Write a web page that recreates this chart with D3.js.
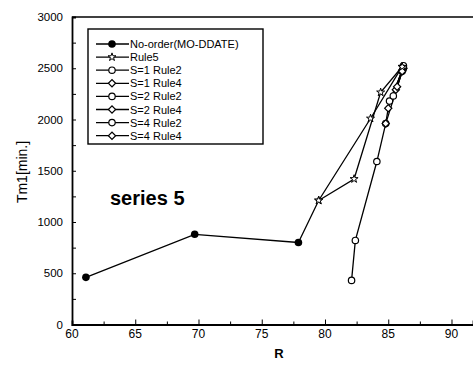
<!DOCTYPE html>
<html>
<head>
<meta charset="utf-8">
<script src="https://cdn.jsdelivr.net/npm/d3@7"></script>
<style>
  body { margin: 0; background: #fff; }
  svg { display: block; }
  text { font-family: "Liberation Sans", Arial, sans-serif; fill: #000; }
</style>
</head>
<body>
<svg id="chart" width="473" height="367"></svg>
<script>
// data
var xTicks = [60, 65, 70, 75, 80, 85, 90];
var yTicks = [0, 500, 1000, 1500, 2000, 2500, 3000];
var legendNames = ['No-order(MO-DDATE)', 'Rule5', 'S=1 Rule2', 'S=1 Rule4', 'S=2 Rule2', 'S=2 Rule4', 'S=4 Rule2', 'S=4 Rule4'];
var legendMarks = ['dot', 'star', 'circle', 'diamond', 'circle', 'diamond', 'circle', 'diamond'];

var noOrder = [[61.1, 460], [69.7, 880], [77.9, 800]];
var rule5 = [[77.9, 800], [79.5, 1210], [83.6, 2010], [86.1, 2515]];
var rule5b = [[79.5, 1210], [82.3, 1420], [84.4, 2265], [86.1, 2515]];
var s1rule2 = [[82.1, 430], [82.4, 820], [84.1, 1590], [84.8, 1960], [86.1, 2470]];
var s1rule4 = [[84.8, 1960], [85.0, 2110], [86.1, 2480]];
var s2rule2 = [[85.1, 2180], [86.2, 2500]];
var s2rule4 = [[85.6, 2290], [86.2, 2500]];
var s4rule2 = [[85.4, 2230], [86.2, 2525]];
var s4rule4 = [[85.7, 2320], [86.1, 2470]];

var svg = d3.select('#chart');
var x = d3.scaleLinear().domain([60, 91.7]).range([72, 473]);
var y = d3.scaleLinear().domain([0, 3000]).range([324.5, 17]);

// frame: top line + axes
svg.append('line').attr('x1', 72).attr('x2', 473).attr('y1', y(3000)).attr('y2', y(3000))
    .attr('stroke', '#000').attr('stroke-width', 1.6);

var xAxis = svg.append('g').attr('transform', 'translate(0,' + y(0) + ')')
    .call(d3.axisTop(x).tickValues(d3.range(60, 91, 2.5)).tickSize(4).tickFormat(''));
xAxis.selectAll('.tick line').attr('y2', function (d) { return d % 5 === 0 ? -5 : -3; });
xAxis.select('.domain').attr('stroke-width', 1.8);
svg.append('g').selectAll('text').data(xTicks).join('text')
    .attr('x', function (d) { return x(d); }).attr('y', 338)
    .attr('text-anchor', 'middle').attr('font-size', 12).text(function (d) { return d; });

var yAxis = svg.append('g').attr('transform', 'translate(' + x(60) + ',0)')
    .call(d3.axisRight(y).tickValues(d3.range(0, 3001, 250)).tickSize(4).tickFormat(''));
yAxis.select('.domain').attr('stroke-width', 1.8);
svg.append('g').selectAll('text').data(yTicks).join('text')
    .attr('x', 63).attr('y', function (d) { return y(d) + 4; })
    .attr('text-anchor', 'end').attr('font-size', 11.5).text(function (d) { return d; });
svg.selectAll('.domain, .tick line').attr('stroke', '#000');

svg.append('text').attr('x', 279).attr('y', 358).attr('text-anchor', 'middle')
    .attr('font-size', 13).attr('font-weight', 'bold').text('R');
svg.append('text').attr('transform', 'translate(27,172) rotate(-90)').attr('text-anchor', 'middle')
    .attr('font-size', 14).text('Tm1[min.]');
svg.append('text').attr('x', 110).attr('y', 205).attr('font-size', 20).attr('font-weight', 'bold')
    .text('series 5');

// markers
function drawMark(g, kind, cx, cy) {
    if (kind === 'dot') {
        g.append('circle').attr('cx', cx).attr('cy', cy).attr('r', 3.8).attr('fill', '#000');
    } else if (kind === 'circle') {
        g.append('circle').attr('cx', cx).attr('cy', cy).attr('r', 3.2)
            .attr('fill', '#fff').attr('stroke', '#000').attr('stroke-width', 1.2);
    } else if (kind === 'diamond') {
        g.append('path').attr('transform', 'translate(' + cx + ',' + cy + ') rotate(45)')
            .attr('d', d3.symbol(d3.symbolSquare, 26)())
            .attr('fill', '#fff').attr('stroke', '#000').attr('stroke-width', 1.2);
    } else {
        g.append('path').attr('transform', 'translate(' + cx + ',' + cy + ')')
            .attr('d', d3.symbol(d3.symbolStar, 20)())
            .attr('fill', '#fff').attr('stroke', '#000').attr('stroke-width', 1);
    }
}

var series = [
    {data: s1rule2, mark: 'circle'}, {data: s1rule4, mark: 'diamond'},
    {data: s2rule2, mark: 'circle'}, {data: s2rule4, mark: 'diamond'},
    {data: s4rule2, mark: 'circle'}, {data: s4rule4, mark: 'diamond'},
    {data: rule5, mark: 'star'}, {data: rule5b, mark: 'star'},
    {data: noOrder, mark: 'dot'}
];
// a point already marked by the No-order series keeps its filled dot
function sharedWithNoOrder(p) {
    return noOrder.some(function (q) { return q[0] === p[0] && q[1] === p[1]; });
}
var line = d3.line().x(function (d) { return x(d[0]); }).y(function (d) { return y(d[1]); });
var plot = svg.append('g');
series.forEach(function (s) {
    plot.append('path').attr('d', line(s.data)).attr('fill', 'none')
        .attr('stroke', '#000').attr('stroke-width', 1.3);
});
series.forEach(function (s) {
    s.data.forEach(function (p) {
        if (s.mark !== 'dot' && sharedWithNoOrder(p)) return;
        drawMark(plot, s.mark, x(p[0]), y(p[1]));
    });
});

// legend
var lg = svg.append('g');
lg.append('rect').attr('x', 88).attr('y', 29).attr('width', 175).attr('height', 115)
    .attr('fill', '#fff').attr('stroke', '#000').attr('stroke-width', 1.4);
legendNames.forEach(function (name, i) {
    var ly = 44 + i * 13.1;
    lg.append('line').attr('x1', 96).attr('x2', 129).attr('y1', ly).attr('y2', ly)
        .attr('stroke', '#000').attr('stroke-width', 1.3);
    drawMark(lg, legendMarks[i], 112, ly);
    lg.append('text').attr('x', 130).attr('y', ly + 4).attr('font-size', 11).text(name);
});
</script>
</body>
</html>
